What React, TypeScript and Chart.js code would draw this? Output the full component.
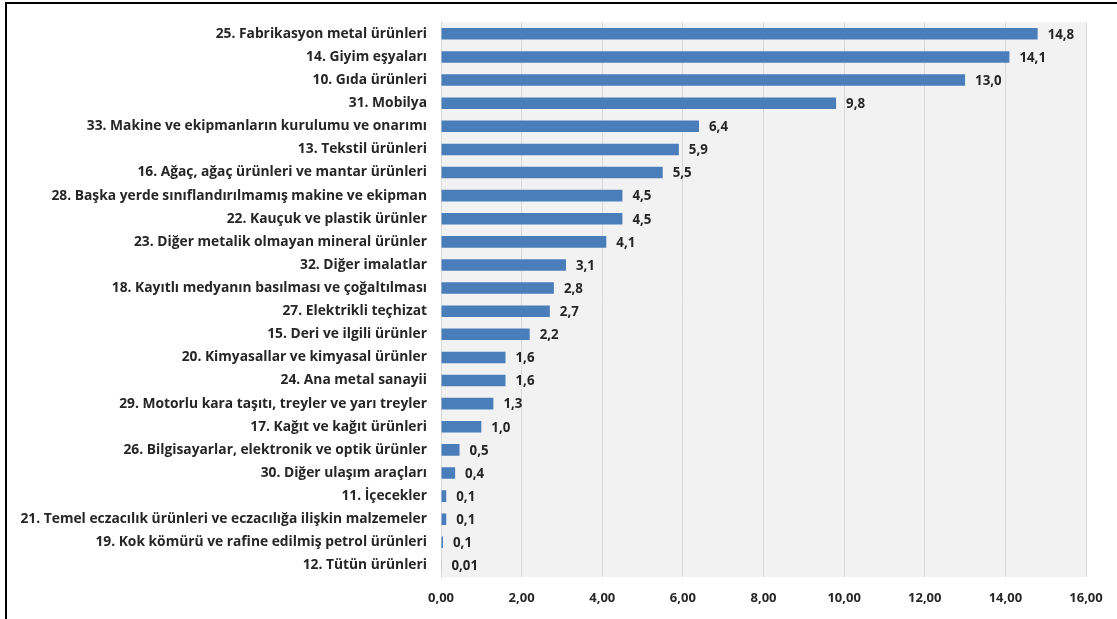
import React, { useEffect, useRef } from "react";
import { Chart, registerables } from "chart.js";

Chart.register(...registerables);

const categories: string[] = [
  "25. Fabrikasyon metal ürünleri",
  "14. Giyim eşyaları",
  "10. Gıda ürünleri",
  "31. Mobilya",
  "33. Makine ve ekipmanların kurulumu ve onarımı",
  "13. Tekstil ürünleri",
  "16. Ağaç, ağaç ürünleri ve mantar ürünleri",
  "28. Başka yerde sınıflandırılmamış makine ve ekipman",
  "22. Kauçuk ve plastik ürünler",
  "23. Diğer metalik olmayan mineral ürünler",
  "32. Diğer imalatlar",
  "18. Kayıtlı medyanın basılması ve çoğaltılması",
  "27. Elektrikli teçhizat",
  "15. Deri ve ilgili ürünler",
  "20. Kimyasallar ve kimyasal ürünler",
  "24. Ana metal sanayii",
  "29. Motorlu kara taşıtı, treyler ve yarı treyler",
  "17. Kağıt ve kağıt ürünleri",
  "26. Bilgisayarlar, elektronik ve optik ürünler",
  "30. Diğer ulaşım araçları",
  "11. İçecekler",
  "21. Temel eczacılık ürünleri ve eczacılığa ilişkin malzemeler",
  "19. Kok kömürü ve rafine edilmiş petrol ürünleri",
  "12. Tütün ürünleri",
];

const values: number[] = [
  14.8, 14.1, 13.0, 9.8, 6.4, 5.9, 5.5, 4.5, 4.5, 4.1, 3.1, 2.8, 2.7, 2.2,
  1.6, 1.6, 1.3, 1.0, 0.46, 0.35, 0.13, 0.13, 0.05, 0.01,
];

const valueLabels: string[] = [
  "14,8", "14,1", "13,0", "9,8", "6,4", "5,9", "5,5", "4,5", "4,5", "4,1",
  "3,1", "2,8", "2,7", "2,2", "1,6", "1,6", "1,3", "1,0", "0,5", "0,4",
  "0,1", "0,1", "0,1", "0,01",
];

const xMin = 0;
const xMax = 16;
const xStep = 2;

const FONT = "'Open Sans', 'Noto Sans', sans-serif";
const TEXT = "#262626";

const plotBg = {
  id: "plotBg",
  beforeDraw(chart: any) {
    const { ctx, chartArea } = chart;
    ctx.save();
    ctx.fillStyle = "#f2f2f2";
    ctx.fillRect(
      chartArea.left,
      chartArea.top,
      chartArea.right - chartArea.left,
      chartArea.bottom - chartArea.top
    );
    ctx.restore();
  },
};

const barLabels = {
  id: "barLabels",
  afterDatasetsDraw(chart: any) {
    const { ctx } = chart;
    const meta = chart.getDatasetMeta(0);
    ctx.save();
    ctx.font = `bold 13.3px ${FONT}`;
    ctx.fillStyle = TEXT;
    ctx.textAlign = "left";
    ctx.textBaseline = "middle";
    meta.data.forEach((bar: any, i: number) => {
      ctx.fillText(valueLabels[i], bar.x + 10, bar.y + 1);
    });
    ctx.restore();
  },
};

export default function App() {
  const ref = useRef<HTMLCanvasElement | null>(null);

  useEffect(() => {
    if (!ref.current) return;
    const chart = new Chart(ref.current, {
      type: "bar",
      data: {
        labels: categories,
        datasets: [
          {
            data: values,
            backgroundColor: "#4a7ebb",
            borderWidth: 0,
            barPercentage: 0.5,
            categoryPercentage: 1,
          },
        ],
      },
      options: {
        indexAxis: "y",
        animation: false,
        responsive: false,
        maintainAspectRatio: false,
        layout: { padding: { top: 22, right: 31, left: 0, bottom: 0 } },
        plugins: {
          legend: { display: false },
          tooltip: { enabled: false },
        },
        scales: {
          x: {
            min: xMin,
            max: xMax,
            afterFit: (s: any) => {
              s.height = 42;
            },
            ticks: {
              stepSize: xStep,
              padding: 13,
              color: TEXT,
              font: { family: FONT, size: 13, weight: "bold" },
              callback: (v: any) => Number(v).toFixed(2).replace(".", ","),
            },
            grid: { color: "#d9d9d9", drawTicks: false, lineWidth: 1 },
            border: { display: false },
          },
          y: {
            afterFit: (s: any) => {
              s.width = 441;
            },
            ticks: {
              padding: 14,
              color: TEXT,
              autoSkip: false,
              font: { family: FONT, size: 13.8, weight: "bold" },
            },
            grid: { display: false, drawTicks: false },
            border: { display: true, color: "#d9d9d9" },
          },
        },
      },
      plugins: [plotBg, barLabels],
    });
    return () => chart.destroy();
  }, []);

  return (
    <div
      style={{
        position: "fixed",
        left: 0,
        top: 0,
        width: 1117,
        height: 619,
        background: "#ffffff",
        overflow: "hidden",
      }}
    >
      <div
        style={{
          position: "absolute",
          left: 5,
          top: 2,
          width: 1200,
          height: 700,
          borderLeft: "2px solid #000",
          borderTop: "2px solid #000",
        }}
      />
      <canvas
        ref={ref}
        width={1117}
        height={619}
        style={{ position: "absolute", left: 0, top: 0, display: "block" }}
      />
    </div>
  );
}
